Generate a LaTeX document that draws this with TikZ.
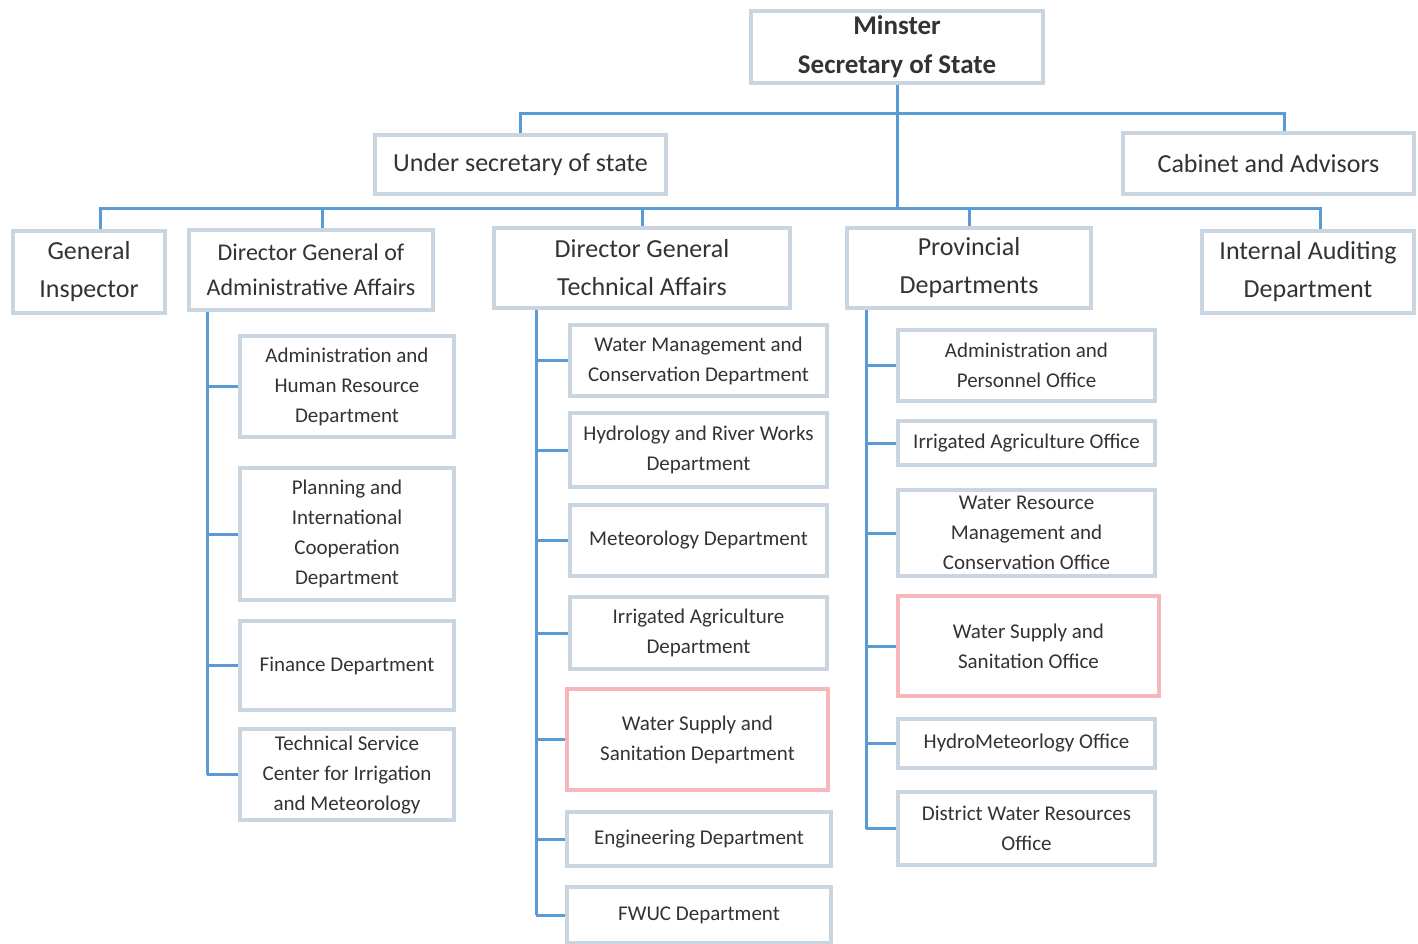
\documentclass[tikz,border=0pt]{standalone}
\usepackage{fontspec}
\setmainfont{Carlito}
\definecolor{boxc}{HTML}{C9D5E1}
\definecolor{pinkc}{HTML}{F7B7BA}
\definecolor{linec}{HTML}{5B9BD5}
\definecolor{txt}{HTML}{333333}
\tikzset{
  box/.style={draw=boxc, line width=3.5pt, fill=white, inner sep=0pt, align=center, text=txt},
  pinkbox/.style={box, draw=pinkc},
  big/.style={font=\fontsize{26}{38}\selectfont},
  top/.style={font=\fontsize{27}{39}\selectfont\bfseries},
  small/.style={font=\fontsize{21}{30}\selectfont},
  conn/.style={draw=linec, line width=3pt}
}
\begin{document}
\begin{tikzpicture}[x=1pt,y=-1pt]
\useasboundingbox (0,0) rectangle (1418,943);
% top level
\node[box,top,minimum width=292pt,minimum height=72pt] (min) at (897,47) {Minster\\Secretary of State};
\node[box,big,minimum width=291pt,minimum height=59pt] (us) at (520.5,164.5) {Under secretary of state};
\node[box,big,minimum width=291pt,minimum height=61pt] (cab) at (1268.5,163.5) {Cabinet and Advisors};
% second level
\node[box,big,minimum width=152pt,minimum height=82pt] (gi) at (89,272) {General\\Inspector};
\node[box,big,minimum width=244pt,minimum height=80pt,font=\fontsize{24}{35}\selectfont] (dga) at (311,270) {Director General of\\Administrative Affairs};
\node[box,big,minimum width=296pt,minimum height=80pt] (dgt) at (642,268) {Director General\\Technical Affairs};
\node[box,big,minimum width=244pt,minimum height=80pt] (prov) at (969,268) {Provincial\\Departments};
\node[box,big,minimum width=212pt,minimum height=82pt] (iad) at (1308,272) {Internal Auditing\\Department};
% admin children
\node[box,small,minimum width=214pt,minimum height=101pt] (ahr) at (347,386.5) {Administration and\\Human Resource\\Department};
\node[box,small,minimum width=214pt,minimum height=132pt] (pic) at (347,534) {Planning and\\International\\Cooperation\\Department};
\node[box,small,minimum width=214pt,minimum height=89pt] (fin) at (347,665.5) {Finance Department};
\node[box,small,minimum width=214pt,minimum height=91pt] (tsc) at (347,774.5) {Technical Service\\Center for Irrigation\\and Meteorology};
% technical children
\node[box,small,minimum width=257pt,minimum height=71pt] (wmc) at (698.5,360.5) {Water Management and\\Conservation Department};
\node[box,small,minimum width=257pt,minimum height=74pt] (hyd) at (698.5,450) {Hydrology and River Works\\Department};
\node[box,small,minimum width=257pt,minimum height=71pt] (met) at (698.5,540.5) {Meteorology Department};
\node[box,small,minimum width=257pt,minimum height=72pt] (iag) at (698.5,633) {Irrigated Agriculture\\Department};
\node[pinkbox,small,minimum width=261pt,minimum height=101pt] (wss) at (697.5,739.5) {Water Supply and\\Sanitation Department};
\node[box,small,minimum width=264pt,minimum height=54pt] (eng) at (699,839) {Engineering Department};
\node[box,small,minimum width=264pt,minimum height=56pt] (fwuc) at (699,915) {FWUC Department};
% provincial children
\node[box,small,minimum width=257pt,minimum height=71pt] (ap) at (1026.5,365.5) {Administration and\\Personnel Office};
\node[box,small,minimum width=257pt,minimum height=44pt] (iao) at (1026.5,443) {Irrigated Agriculture Office};
\node[box,small,minimum width=257pt,minimum height=86pt] (wrm) at (1026.5,533) {Water Resource\\Management and\\Conservation Office};
\node[pinkbox,small,minimum width=261pt,minimum height=100pt] (wso) at (1028.5,646) {Water Supply and\\Sanitation Office};
\node[box,small,minimum width=257pt,minimum height=49pt] (hmo) at (1026.5,743.5) {HydroMeteorlogy Office};
\node[box,small,minimum width=257pt,minimum height=73pt] (dwr) at (1026.5,828.5) {District Water Resources\\Office};
% junction coordinates
\coordinate (j1) at (897,113);
\coordinate (j2) at (897,208);
\coordinate (ax) at (207,0);
\coordinate (tx) at (536,0);
\coordinate (px) at (866,0);
% connectors top
\draw[conn] (min.south) -- (j2);
\draw[conn] (us.north) -- (us.north |- j1) -- ([xshift=16pt]cab.north |- j1) -- ([xshift=16pt]cab.north);
\draw[conn] ([xshift=11pt]gi.north) -- ([xshift=11pt]gi.north |- j2) -- ([xshift=12pt]iad.north |- j2) -- ([xshift=12pt]iad.north);
\draw[conn] ([xshift=11pt]dga.north) -- ([xshift=11pt]dga.north |- j2);
\draw[conn] (dgt.north) -- (dgt.north |- j2);
\draw[conn] (prov.north) -- (prov.north |- j2);
% admin column
\draw[conn] (dga.south -| ax) -- (tsc.west -| ax);
\foreach \n in {ahr,pic,fin,tsc} \draw[conn] (\n.west -| ax) -- (\n.west);
% technical column
\draw[conn] (dgt.south -| tx) -- (fwuc.west -| tx);
\foreach \n in {wmc,hyd,met,iag,wss,eng,fwuc} \draw[conn] (\n.west -| tx) -- (\n.west);
% provincial column
\draw[conn] (prov.south -| px) -- (dwr.west -| px);
\foreach \n in {ap,iao,wrm,wso,hmo,dwr} \draw[conn] (\n.west -| px) -- (\n.west);
\end{tikzpicture}
\end{document}
